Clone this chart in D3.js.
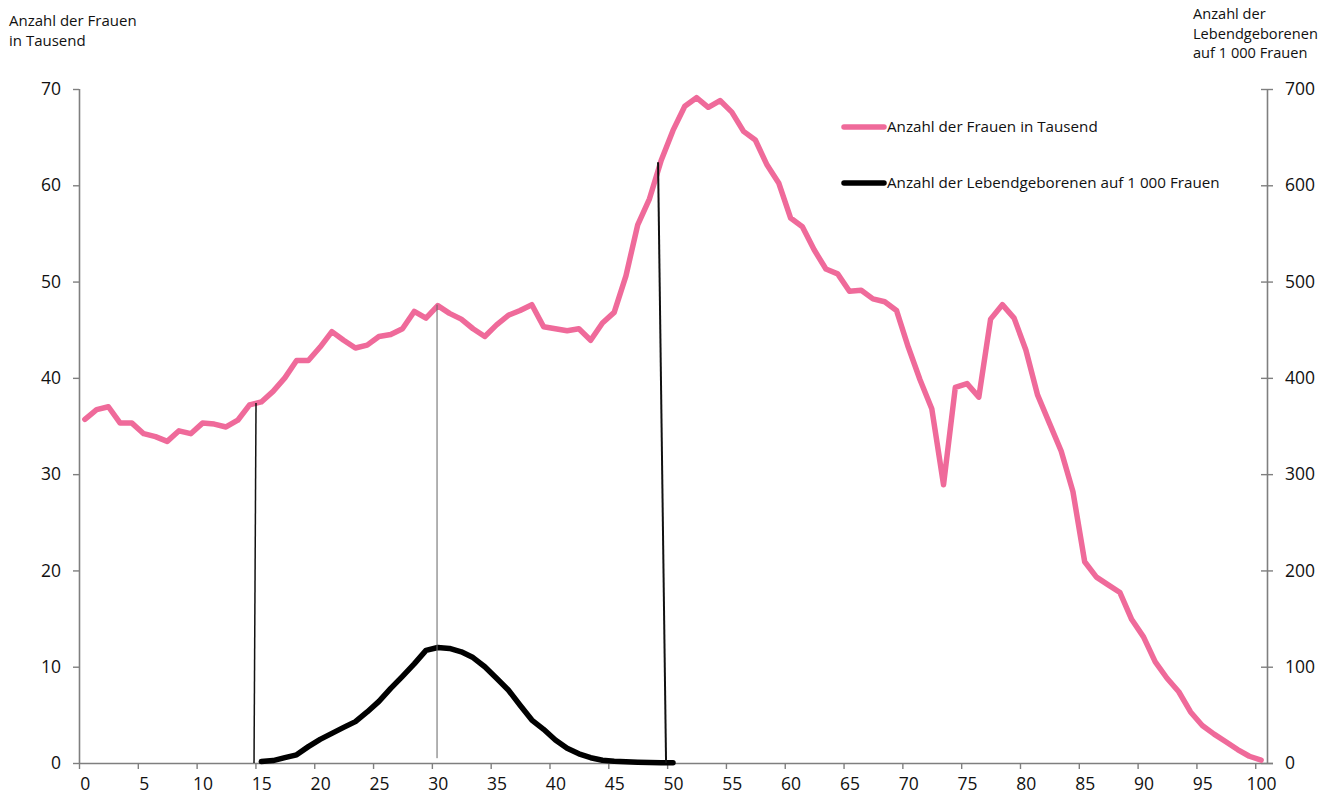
<!DOCTYPE html>
<html>
<head>
<meta charset="utf-8">
<script src="https://cdn.jsdelivr.net/npm/d3@7"></script>
<style>
  html, body { margin: 0; padding: 0; background: #fff; }
  svg { display: block; font-family: "Open Sans", "Noto Sans", sans-serif; }
</style>
</head>
<body>
<svg id="chart" width="1338" height="800"></svg>
<script>
// ---- Data ----
const ages = d3.range(0, 101);
const women = [
  35.7, 36.7, 37.0, 35.3, 35.3, 34.2, 33.9, 33.4, 34.5, 34.2,
  35.3, 35.2, 34.9, 35.6, 37.2, 37.5, 38.6, 40.0, 41.8, 41.8,
  43.2, 44.8, 43.9, 43.1, 43.4, 44.3, 44.5, 45.1, 46.9, 46.2,
  47.5, 46.7, 46.1, 45.1, 44.3, 45.5, 46.5, 47.0, 47.6, 45.3,
  45.1, 44.9, 45.1, 43.9, 45.7, 46.8, 50.6, 55.9, 58.6, 62.6,
  65.7, 68.2, 69.1, 68.1, 68.8, 67.6, 65.6, 64.7, 62.1, 60.2,
  56.6, 55.7, 53.3, 51.3, 50.8, 49.0, 49.1, 48.2, 47.9, 47.0,
  43.2, 39.8, 36.8, 28.9, 39.0, 39.4, 38.0, 46.1, 47.6, 46.2,
  42.9, 38.2, 35.3, 32.4, 28.2, 20.9, 19.3, 18.5, 17.7, 14.9,
  13.1, 10.5, 8.8, 7.4, 5.3, 3.9, 3.0, 2.2, 1.4, 0.7,
  0.3
];
const birthAges = d3.range(15, 51);
const births = [
  1.5, 2.5, 5.5, 8.5, 17, 24.5, 30.8, 37, 43, 53,
  64, 77.5, 90, 103, 117, 120, 119, 115.5, 109.5, 100,
  88, 75.8, 60, 44.6, 35, 23.9, 15.2, 9.5, 5.5, 2.8,
  1.8, 1.2, 0.8, 0.5, 0.3, 0.2
];
// annotation drop lines (age, value at top and bottom)
const refAgeTop = [14.55, 29.94, 48.73];
const refValTop = [37.4, 47.6, 62.4];
const refAgeBottom = [14.38, 29.94, 49.41];
const refValBottom = [0, 0.5, 0];

const xTickValues = d3.range(0, 101, 5);
const leftTicks = [0, 10, 20, 30, 40, 50, 60, 70];
const rightTicks = [0, 100, 200, 300, 400, 500, 600, 700];
const leftTitle = ["Anzahl der Frauen", "in Tausend"];
const rightTitle = ["Anzahl der", "Lebendgeborenen", "auf 1 000 Frauen"];
const seriesNames = ["Anzahl der Frauen in Tausend", "Anzahl der Lebendgeborenen auf 1 000 Frauen"];

// ---- Layout ----
const pink = "#EF6A9A";
const axisGray = "#7f7f7f";
const textColor = "#111";
const L = 79, R = 1267, T = 89, B = 763;

const svg = d3.select("#chart");
const x = d3.scaleLinear().domain([0, 101]).range([L, R]);
const yL = d3.scaleLinear().domain([0, 70]).range([B, T]);
const yR = d3.scaleLinear().domain([0, 700]).range([B, T]);
const half = (x(1) - x(0)) / 2;

// Axis titles
svg.append("text").attr("x", 9).attr("y", 26).attr("font-size", 15).attr("fill", textColor)
  .selectAll("tspan").data(leftTitle).join("tspan")
  .attr("x", 9).attr("dy", (d, i) => i === 0 ? 0 : 20).text(d => d);
svg.append("text").attr("x", 1193).attr("y", 19).attr("font-size", 14.6).attr("fill", textColor)
  .selectAll("tspan").data(rightTitle).join("tspan")
  .attr("x", 1193).attr("dy", (d, i) => i === 0 ? 0 : 19.5).text(d => d);

// Left axis
const gL = svg.append("g").attr("transform", `translate(${L},0)`)
  .call(d3.axisLeft(yL).tickValues(leftTicks).tickSize(6).tickPadding(12).tickFormat(d3.format("d")));
// Right axis
const gR = svg.append("g").attr("transform", `translate(${R},0)`)
  .call(d3.axisRight(yR).tickValues(rightTicks).tickSize(6).tickPadding(12).tickFormat(d3.format("d")));
gR.selectAll(".tick line").attr("x1", -6);
// Bottom axis
const gB = svg.append("g").attr("transform", `translate(0,${B})`)
  .call(d3.axisBottom(x).tickValues(xTickValues).tickSize(6).tickPadding(9).tickFormat(d3.format("d")));
gB.selectAll(".tick text").attr("dx", half);
gB.select(".domain").attr("d", `M${L},0.5H${R + 6}`);

[gL, gR, gB].forEach(g => {
  g.selectAll(".domain").attr("stroke", axisGray).attr("stroke-width", 1.6);
  g.selectAll(".tick line").attr("stroke", axisGray).attr("stroke-width", 1.4);
  g.selectAll(".tick text").attr("fill", textColor).attr("font-size", 17.5)
    .attr("font-family", "'Open Sans', 'Noto Sans', sans-serif");
});
gL.select(".domain").attr("d", `M0.5,${T}V${B}`);
gR.select(".domain").attr("d", `M0.5,${T}V${B}`);

// Series
const lineW = d3.line().x((d, i) => x(ages[i] + 0.5)).y(d => yL(d));
svg.append("path").datum(women).attr("d", lineW)
  .attr("fill", "none").attr("stroke", pink).attr("stroke-width", 5.5)
  .attr("stroke-linejoin", "round").attr("stroke-linecap", "round");

const lineB = d3.line().x((d, i) => x(birthAges[i] + 0.5)).y(d => yR(d));
svg.append("path").datum(births).attr("d", lineB)
  .attr("fill", "none").attr("stroke", "#000").attr("stroke-width", 5.5)
  .attr("stroke-linejoin", "round").attr("stroke-linecap", "round");

// Reference drop lines
const refStyle = [
  { c: "#111", w: 1.5 },
  { c: "#666", w: 1 },
  { c: "#111", w: 2 }
];
svg.append("g").selectAll("line").data(refAgeTop).join("line")
  .attr("x1", (d, i) => x(d + 0.5)).attr("y1", (d, i) => yL(refValTop[i]))
  .attr("x2", (d, i) => x(refAgeBottom[i] + 0.5)).attr("y2", (d, i) => yL(refValBottom[i]))
  .attr("stroke", (d, i) => refStyle[i].c).attr("stroke-width", (d, i) => refStyle[i].w);

// Legend
const legendY = [127, 183];
const legendColors = [pink, "#000"];
const lg = svg.append("g").selectAll("g").data(seriesNames).join("g")
  .attr("transform", (d, i) => `translate(842,${legendY[i]})`);
lg.append("line").attr("x1", 2).attr("x2", 42).attr("y1", 0).attr("y2", 0)
  .attr("stroke", (d, i) => legendColors[i]).attr("stroke-width", 5.5).attr("stroke-linecap", "round");
lg.append("text").attr("x", 45).attr("y", 0).attr("dy", "0.35em")
  .attr("font-size", 15.2).attr("fill", textColor).text(d => d);
</script>
</body>
</html>
